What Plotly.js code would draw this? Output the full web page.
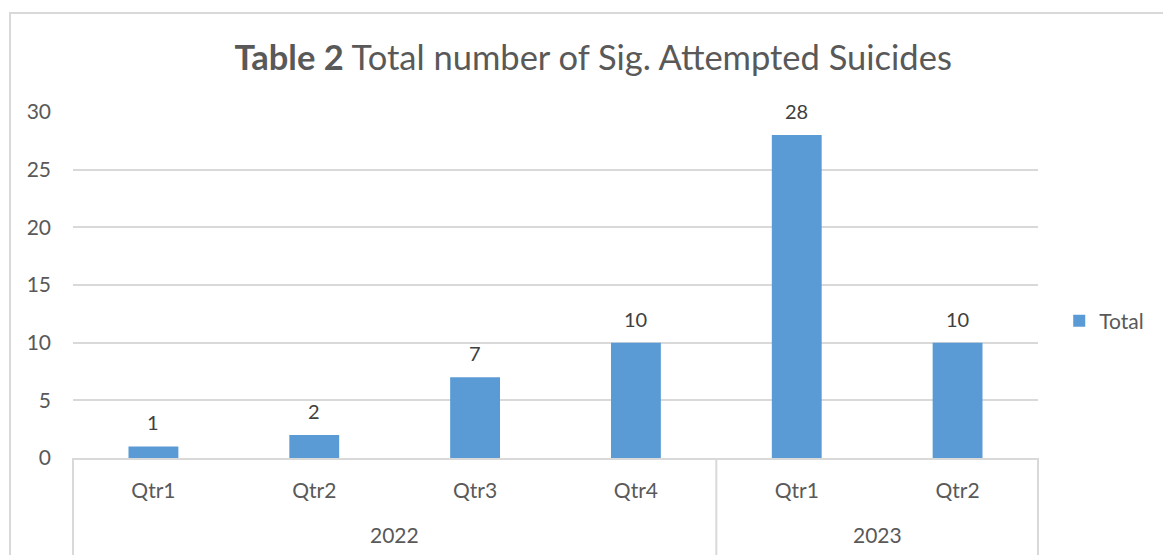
<!DOCTYPE html>
<html><head><meta charset="utf-8">
<script src="https://cdn.plot.ly/plotly-3.0.1.min.js"></script>
<style>html,body{margin:0;padding:0;background:#fff}#c{width:1163px;height:555px}</style>
</head><body><div id="c"></div>
<script>
const years = ["2022","2022","2022","2022","2023","2023"];
const quarters = ["Qtr1","Qtr2","Qtr3","Qtr4","Qtr1","Qtr2"];
const totals = [1,2,7,10,28,10];
const seriesName = "Total";

const font = "Lato, 'Open Sans', sans-serif";
const idx = quarters.map((_, i) => i);
const trace = {
  type: "bar",
  x: idx,
  y: totals,
  name: seriesName,
  marker: {color: "#5b9bd5"},
  width: 0.31,
  hoverinfo: "skip"
};
const annotations = totals.map((v, i) => ({
  x: idx[i], xref: "x", y: v, yref: "y",
  text: String(v), showarrow: false, yshift: 24,
  font: {family: font, size: 20, color: "#404040"}
}));
// year group labels and dividers
const groups = [];
years.forEach((y, i) => {
  const g = groups.find(o => o.name === y);
  if (g) g.last = i; else groups.push({name: y, first: i, last: i});
});
const shapes = [{type: "rect", xref: "paper", yref: "paper", x0: -0.0653, x1: 1.3, y0: -0.6, y1: 1.286,
  line: {color: "#d9d9d9", width: 2}, fillcolor: "rgba(0,0,0,0)", layer: "below"}];
groups.forEach((g, k) => {
  annotations.push({x: (g.first + g.last) / 2, xref: "x", y: -0.2225, yref: "paper",
    yanchor: "middle", text: g.name, showarrow: false,
    font: {family: font, size: 21, color: "#595959"}});
  if (k > 0) shapes.push({type: "line", xref: "x", yref: "paper", x0: g.first - 0.5, x1: g.first - 0.5,
    y0: 0, y1: -0.3, line: {color: "#d9d9d9", width: 2}});
});
shapes.push({type: "line", xref: "paper", yref: "paper", x0: 0, x1: 0, y0: 0, y1: -0.3, line: {color: "#d9d9d9", width: 2}});
shapes.push({type: "line", xref: "paper", yref: "paper", x0: 1, x1: 1, y0: 0, y1: -0.3, line: {color: "#d9d9d9", width: 2}});

const layout = {
  width: 1163, height: 555,
  margin: {l: 73, r: 125, t: 112, b: 97, autoexpand: false},
  paper_bgcolor: "#fff", plot_bgcolor: "#fff",
  title: {text: "<b>Table 2</b> Total number of Sig. Attempted Suicides",
    font: {family: font, size: 34.5, color: "#595959"},
    x: 0.51, xanchor: "center", y: 0.895, yanchor: "middle"},
  showlegend: true,
  legend: {x: 1.022, y: 0.396, xanchor: "left", yanchor: "middle",
    font: {family: font, size: 21, color: "#595959"}},
  xaxis: {range: [-0.5, 5.5], tickvals: idx, ticktext: quarters, showgrid: false, zeroline: false,
    showline: true, linecolor: "#d9d9d9", linewidth: 2, ticks: "", ticklabelstandoff: 13,
    tickfont: {family: font, size: 21, color: "#595959"}},
  yaxis: {range: [0, 30], dtick: 5, showgrid: true, gridcolor: "#d9d9d9", gridwidth: 2,
    zeroline: false, showline: false, ticks: "", ticklabelstandoff: 21,
    tickfont: {family: font, size: 21, color: "#595959"}},
  annotations: annotations,
  shapes: shapes
};
Plotly.newPlot("c", [trace], layout, {displayModeBar: false, staticPlot: true});
</script></body></html>
